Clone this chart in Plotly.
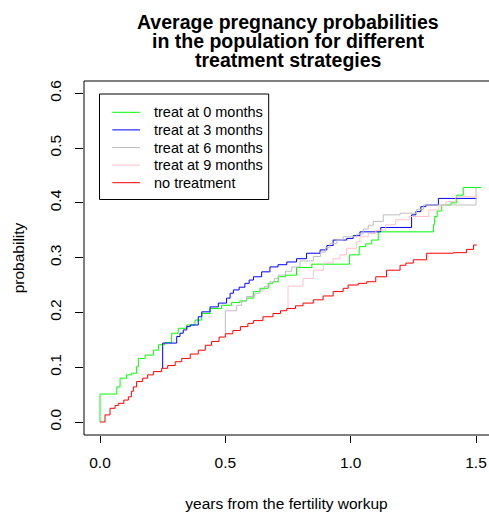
import plotly.graph_objects as go

# Average pregnancy probability (y) against years since the fertility workup (x)
# for each treatment strategy; every curve is a right-continuous step function.
t_none = [0.0, 0.02, 0.04, 0.06, 0.073, 0.095, 0.113, 0.125, 0.133, 0.146, 0.17, 0.19,
          0.213, 0.246, 0.27, 0.3, 0.326, 0.36, 0.392, 0.42, 0.445, 0.475, 0.5, 0.53,
          0.56, 0.59, 0.612, 0.65, 0.69, 0.72, 0.745, 0.78, 0.81, 0.851, 0.89, 0.93,
          0.97, 0.99, 1.03, 1.064, 1.1, 1.143, 1.197, 1.22, 1.25, 1.303, 1.41, 1.462,
          1.49, 1.503]
p_none = [0.0, 0.013, 0.025, 0.03, 0.034, 0.04, 0.046, 0.056, 0.064, 0.074, 0.08, 0.086,
          0.092, 0.098, 0.103, 0.11, 0.116, 0.124, 0.131, 0.14, 0.147, 0.155, 0.161, 0.167,
          0.174, 0.18, 0.185, 0.192, 0.198, 0.203, 0.207, 0.212, 0.217, 0.223, 0.23, 0.238,
          0.244, 0.25, 0.253, 0.256, 0.265, 0.277, 0.286, 0.29, 0.296, 0.308, 0.309, 0.315,
          0.323, 0.323]

t_treat0 = [0.0, 0.0, 0.055, 0.067, 0.08, 0.106, 0.126, 0.146, 0.153, 0.18, 0.213, 0.233,
            0.259, 0.286, 0.312, 0.346, 0.379, 0.406, 0.439, 0.485, 0.525, 0.558, 0.585,
            0.612, 0.638, 0.671, 0.69, 0.711, 0.74, 0.784, 0.845, 0.995, 1.034, 1.06,
            1.084, 1.11, 1.33, 1.335, 1.345, 1.363, 1.40, 1.423, 1.449, 1.522]
p_treat0 = [0.0, 0.051, 0.051, 0.064, 0.08, 0.086, 0.089, 0.101, 0.116, 0.122, 0.131, 0.141,
            0.145, 0.162, 0.171, 0.177, 0.186, 0.198, 0.207, 0.213, 0.218, 0.221, 0.226,
            0.238, 0.244, 0.253, 0.256, 0.265, 0.268, 0.282, 0.288, 0.305, 0.32, 0.325,
            0.332, 0.347, 0.36, 0.375, 0.385, 0.396, 0.40, 0.414, 0.428, 0.428]

t_treat3 = [0.25, 0.25, 0.306, 0.319, 0.332, 0.346, 0.36, 0.392, 0.406, 0.439, 0.472, 0.505,
            0.519, 0.532, 0.555, 0.578, 0.595, 0.612, 0.645, 0.678, 0.71, 0.745, 0.784,
            0.824, 0.878, 0.905, 0.93, 0.984, 1.01, 1.037, 1.12, 1.243, 1.26, 1.28, 1.30,
            1.35, 1.502]
p_treat3 = [0.098, 0.144, 0.156, 0.162, 0.168, 0.174, 0.177, 0.192, 0.201, 0.21, 0.217, 0.226,
            0.235, 0.241, 0.246, 0.253, 0.259, 0.265, 0.274, 0.283, 0.287, 0.292, 0.298,
            0.308, 0.314, 0.322, 0.332, 0.335, 0.34, 0.347, 0.355, 0.378, 0.384, 0.393, 0.396,
            0.408, 0.408]

t_treat6 = [0.5, 0.5, 0.545, 0.565, 0.585, 0.618, 0.638, 0.655, 0.678, 0.695, 0.711, 0.74,
            0.765, 0.798, 0.851, 0.88, 0.9, 0.917, 0.945, 0.97, 1.024, 1.05, 1.07, 1.09,
            1.13, 1.197, 1.263, 1.29, 1.50, 1.505]
p_treat6 = [0.161, 0.203, 0.213, 0.22, 0.229, 0.235, 0.241, 0.247, 0.256, 0.262, 0.268, 0.275,
            0.283, 0.294, 0.302, 0.31, 0.318, 0.326, 0.332, 0.338, 0.343, 0.352, 0.359, 0.366,
            0.378, 0.381, 0.388, 0.396, 0.427, 0.427]

t_treat9 = [0.75, 0.75, 0.81, 0.851, 0.891, 0.93, 0.957, 0.984, 1.024, 1.037, 1.07, 1.1,
            1.14, 1.18, 1.233, 1.312, 1.352, 1.38, 1.419, 1.5]
p_treat9 = [0.207, 0.248, 0.262, 0.277, 0.29, 0.298, 0.305, 0.317, 0.329, 0.338, 0.344, 0.35,
            0.36, 0.369, 0.375, 0.387, 0.396, 0.402, 0.411, 0.416]

series_names = ["treat at 0 months", "treat at 3 months", "treat at 6 months",
                "treat at 9 months", "no treatment"]
series_colors = ["#00FF00", "#0000FF", "#BEBEBE", "#FFC0CB", "#FF0000"]
series_t = [t_treat0, t_treat3, t_treat6, t_treat9, t_none]
series_p = [p_treat0, p_treat3, p_treat6, p_treat9, p_none]

x_ticks = [0.0, 0.5, 1.0, 1.5]
x_tick_labels = ["0.0", "0.5", "1.0", "1.5"]
y_ticks = [0.0, 0.1, 0.2, 0.3, 0.4, 0.5, 0.6]
y_tick_labels = ["0.0", "0.1", "0.2", "0.3", "0.4", "0.5", "0.6"]

title_lines = ["Average pregnancy probabilities",
               "in the population for different",
               "treatment strategies"]
x_title = "years from the fertility workup"
y_title = "probability"

# Page geometry (pixels)
W, H = 489, 512
L, R, T, B = 84, 0, 81, 77
PW, PH = W - L - R, H - T - B
FONT = "Liberation Sans, Arial, Helvetica, sans-serif"


def px(x):
    return (x - L) / PW


def py(y):
    return (H - B - y) / PH


fig = go.Figure()
for name, color, tt, pp in zip(series_names, series_colors, series_t, series_p):
    fig.add_trace(go.Scatter(
        x=tt, y=pp, mode="lines", name=name,
        line=dict(color=color, width=1, shape="hv"),
        showlegend=False, hoverinfo="skip",
    ))

shapes = []
# plot frame (left, top, bottom)
for x0, y0, x1, y1 in [(0, 0, 0, 1), (0, 1, 1, 1), (0, 0, 1, 0)]:
    shapes.append(dict(type="line", xref="paper", yref="paper", x0=x0, y0=y0, x1=x1, y1=y1,
                       line=dict(color="black", width=1)))

# legend box
shapes.append(dict(type="rect", xref="paper", yref="paper",
                   x0=px(99.5), x1=px(268.7), y0=py(199.5), y1=py(94),
                   line=dict(color="black", width=1), fillcolor="white"))
annotations = []
for i, (name, color) in enumerate(zip(series_names, series_colors)):
    yy = 112.3 + 17.6 * i
    shapes.append(dict(type="line", xref="paper", yref="paper",
                       x0=px(112.3), x1=px(140), y0=py(yy), y1=py(yy),
                       line=dict(color=color, width=1)))
    annotations.append(dict(xref="paper", yref="paper", x=px(152.3), y=py(yy),
                            xanchor="left", yanchor="middle", showarrow=False,
                            text=name, font=dict(family=FONT, size=14.5, color="black")))

# three-line bold title
for i, line in enumerate(title_lines):
    annotations.append(dict(xref="paper", yref="paper", x=px(288.3), y=py(21.6 + 19.2 * i),
                            xanchor="center", yanchor="middle", showarrow=False,
                            text="<b>" + line + "</b>",
                            font=dict(family=FONT, size=19.5, color="black")))

fig.update_layout(
    width=W, height=H,
    margin=dict(l=L, r=R, t=T, b=B, pad=0),
    paper_bgcolor="white", plot_bgcolor="white",
    font=dict(family=FONT, size=15.5, color="black"),
    shapes=shapes, annotations=annotations,
    showlegend=False,
    xaxis=dict(
        range=[(L - 100) / 250.67, (W - R - 100) / 250.67],
        tickmode="array", tickvals=x_ticks, ticktext=x_tick_labels,
        ticks="outside", ticklen=7, tickwidth=1, tickcolor="black",
        showgrid=False, zeroline=False, showline=False,
        ticklabelstandoff=6, automargin=False,
        title=dict(text=x_title, standoff=30, font=dict(size=15.5)),
    ),
    yaxis=dict(
        range=[(422 - (H - B)) / 548, (422 - T) / 548],
        tickmode="array", tickvals=y_ticks, ticktext=y_tick_labels,
        ticks="outside", ticklen=8, tickwidth=1, tickcolor="black", tickangle=-90,
        showgrid=False, zeroline=False, showline=False,
        ticklabelstandoff=8, automargin=False,
        title=dict(text=y_title, standoff=18, font=dict(size=15.5)),
    ),
)

fig.write_html("out.html")
